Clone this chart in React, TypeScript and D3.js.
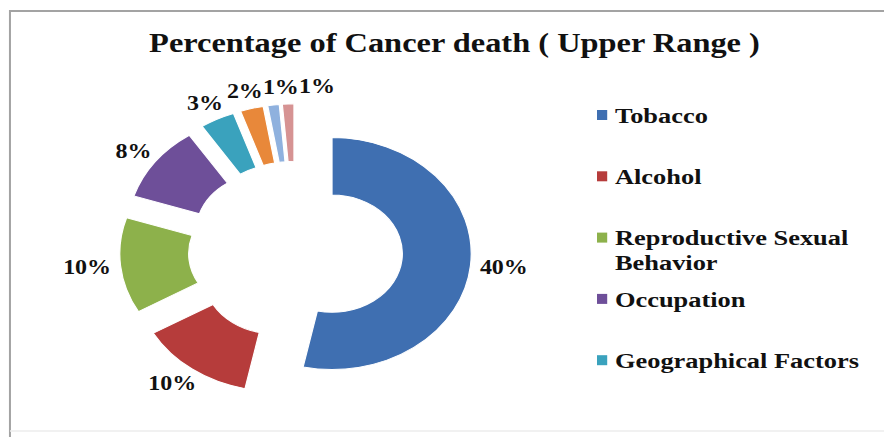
import React from 'react';
import * as d3 from 'd3';

// chart data
const categories = [
  'Tobacco',
  'Alcohol',
  'Reproductive Sexual Behavior',
  'Occupation',
  'Geographical Factors',
  'Pollution',
  'Industrial Products',
  'Medicines',
];
const values = [40, 10, 10, 8, 3, 2, 1, 1];
const colors = ['#3f6fb1', '#b63c3b', '#8db14b', '#6e4f99', '#3aa2bd', '#e8883a', '#8fb1de', '#d69393'];
const legendShown = 5; // the legend box only fits the first five entries
const title = 'Percentage of Cancer death ( Upper Range )';

// the original picture is stretched horizontally, draw in logical units and stretch the svg
const W = 884;
const H = 437;
const SX = 1.2;
const VW = W / SX;

const labelFont = 'bold 20px "Liberation Serif"';
const legendFont = 'bold 22px "Liberation Serif"';

let ctx: CanvasRenderingContext2D | null = null;
const measure = (text: string, font: string) => {
  if (!ctx) ctx = document.createElement('canvas').getContext('2d');
  if (!ctx) return text.length * 10;
  ctx.font = font;
  return ctx.measureText(text).width;
};

const wrap = (text: string, maxW: number) => {
  const words = text.split(' ');
  const lines: string[] = [];
  let cur = '';
  words.forEach(w => {
    const next = cur ? cur + ' ' + w : w;
    if (cur && measure(next, legendFont) > maxW) {
      lines.push(cur);
      cur = w;
    } else {
      cur = next;
    }
  });
  if (cur) lines.push(cur);
  return lines;
};

const App = () => {
  const cx = 246.25;
  const cy = 250.4;
  const rOuter = 116;
  const rInner = 58.6;
  const explode = 30.6;
  const labelGap = 8;
  const labelH = 20;

  const pieData = d3.pie<number>().sort(null).value(d => d)(values);
  const arc = d3.arc<d3.PieArcDatum<number>>().innerRadius(rInner).outerRadius(rOuter);

  const slices = pieData.map((p, i) => {
    const mid = (p.startAngle + p.endAngle) / 2;
    const dx = Math.sin(mid);
    const dy = -Math.cos(mid);
    const ox = cx + dx * explode;
    const oy = cy + dy * explode;
    const text = values[i] + '%';
    const w = measure(text, labelFont);
    const px = ox + dx * (rOuter + labelGap);
    const py = oy + dy * (rOuter + labelGap);
    return {
      p, i, ox, oy, text, w,
      lx: px + (dx * w) / 2,
      ly: py + (dy * labelH) / 2,
    };
  });

  // push overlapping labels to the right (small slices at the top)
  const sorted = [...slices].sort((a, b) => a.lx - b.lx);
  for (let k = 1; k < sorted.length; k++) {
    const a = sorted[k - 1];
    const b = sorted[k];
    const overlapY = Math.abs(a.ly - b.ly) < labelH;
    const minX = a.lx + a.w / 2 + b.w / 2;
    if (overlapY && b.lx < minX) b.lx = minX;
  }

  const legendX = 497.5;
  const legendY = 115;
  const legendStep = 61.3;
  const legendTextX = 512.5;
  const legendLineH = 25;

  return (
    <svg
      width={W}
      height={H}
      viewBox={`0 0 ${VW} ${H}`}
      preserveAspectRatio="none"
      style={{ position: 'fixed', left: 0, top: 0, background: '#fff' }}
    >
      <rect x={0} y={0} width={VW} height={H} fill="#fff" />
      <path
        d={`M${8.3},${H + 5} L${8.3},${11} L${VW + 5},${11}`}
        fill="none"
        stroke="#a3a3a3"
        strokeWidth={2}
        vectorEffect="non-scaling-stroke"
      />
      <line x1={8.3} x2={VW} y1={431} y2={431} stroke="#ececec" strokeWidth={1.5} vectorEffect="non-scaling-stroke" />

      <text
        x={378.75}
        y={52}
        textAnchor="middle"
        fontFamily='"Liberation Serif", serif'
        fontWeight="bold"
        fontSize={27}
        fill="#111"
      >
        {title}
      </text>

      <g>
        {slices.map(s => (
          <path
            key={s.i}
            d={arc(s.p) || ''}
            transform={`translate(${s.ox},${s.oy})`}
            fill={colors[s.i]}
            stroke="#fff"
            strokeWidth={1}
          />
        ))}
      </g>

      <g fontFamily='"Liberation Serif", serif' fontWeight="bold" fontSize={20} fill="#111">
        {slices.map(s => (
          <text key={s.i} x={s.lx} y={s.ly} textAnchor="middle" dominantBaseline="central">
            {s.text}
          </text>
        ))}
      </g>

      <g fontFamily='"Liberation Serif", serif' fontWeight="bold" fontSize={22} fill="#111">
        {categories.slice(0, legendShown).map((c, i) => {
          const y = legendY + i * legendStep;
          const lines = wrap(c, VW - legendTextX - 6);
          return (
            <g key={c}>
              <rect x={legendX} y={y - 5} width={8.5} height={10} fill={colors[i]} />
              {lines.map((ln, j) => (
                <text key={j} x={legendTextX} y={y + j * legendLineH} dominantBaseline="central">
                  {ln}
                </text>
              ))}
            </g>
          );
        })}
      </g>
    </svg>
  );
};

export default App;
